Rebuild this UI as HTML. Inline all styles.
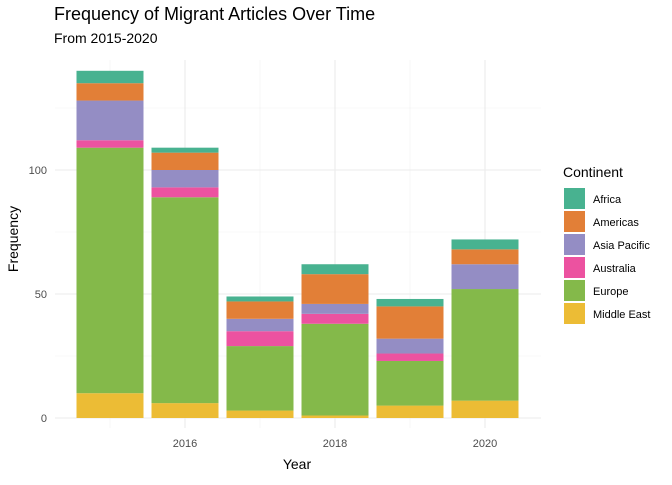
<!DOCTYPE html>
<html><head><meta charset="utf-8"><style>
body{margin:0;background:#fff;font-family:"Liberation Sans",sans-serif}
svg text{font-family:"Liberation Sans",sans-serif}
</style></head><body>
<svg id="c" width="672" height="480">
<text x="54" y="20" font-size="18" fill="#000">Frequency of Migrant Articles Over Time</text>
<text x="54" y="43" font-size="14" fill="#000">From 2015-2020</text>
<g id="grid"></g><g id="bars"></g><g id="axes"></g><g id="legend"></g>
<text x="297" y="469" font-size="14" text-anchor="middle">Year</text>
<text transform="translate(18,239) rotate(-90)" font-size="14" text-anchor="middle">Frequency</text>
</svg>
<script>
const years=[2015,2016,2017,2018,2019,2020];
const continents=["Middle East","Europe","Australia","Asia Pacific","Americas","Africa"];
const middleEast=[10,6,3,1,5,7];
const europe=[99,83,26,37,18,45];
const australia=[3,4,6,4,3,0];
const asiaPacific=[16,7,5,4,6,10];
const americas=[7,7,7,12,13,6];
const africa=[5,2,2,4,3,4];
const yTicks=[0,50,100];
const xTicks=[2016,2018,2020];
const colors={"Africa":"#48b290","Americas":"#e27f37","Asia Pacific":"#948dc4","Australia":"#ec52a0","Europe":"#84b94a","Middle East":"#ecbc35"};
const series=[middleEast,europe,australia,asiaPacific,americas,africa];
const NS="http://www.w3.org/2000/svg";
const y=v=>418-v*2.48, x=yr=>110+(yr-2015)*75;
function mk(t,a,p){const e=document.createElementNS(NS,t);for(const k in a)e.setAttribute(k,a[k]);p.appendChild(e);return e;}
const g=document.getElementById('grid'),b=document.getElementById('bars'),ax=document.getElementById('axes'),lg=document.getElementById('legend');
for(let v=25;v<=125;v+=50){const l=mk('line',{x1:55,x2:541,y1:y(v),y2:y(v),stroke:'#f2f2f2','stroke-width':0.6},g);}
for(const yr of [2015,2017,2019]){const l=mk('line',{x1:x(yr),x2:x(yr),y1:60,y2:428,stroke:'#f2f2f2','stroke-width':0.6},g);}
yTicks.forEach(v=>{const l=mk('line',{x1:55,x2:541,y1:y(v),y2:y(v),stroke:'#ebebeb','stroke-width':1.1},g);
const t=mk('text',{x:47,y:y(v)+4,'font-size':11,fill:'#4d4d4d','text-anchor':'end'},ax);t.textContent=v;});
xTicks.forEach(yr=>{const l=mk('line',{x1:x(yr),x2:x(yr),y1:60,y2:428,stroke:'#ebebeb','stroke-width':1.1},g);
const t=mk('text',{x:x(yr),y:447,'font-size':11,fill:'#4d4d4d','text-anchor':'middle'},ax);t.textContent=yr;});
years.forEach((yr,i)=>{let base=0;series.forEach((s,j)=>{const v=s[i];if(v>0){const r=mk('rect',{x:x(yr)-33.5,width:67,y:y(base+v),height:v*2.48,fill:colors[continents[j]]},b);
}base+=v;});});
const lt=mk('text',{x:563,y:177,'font-size':14},lg);lt.textContent='Continent';
const order=["Africa","Americas","Asia Pacific","Australia","Europe","Middle East"];
order.forEach((c,i)=>{const r=mk('rect',{x:564,y:188+i*23,width:21,height:21,fill:colors[c]},lg);
const t=mk('text',{x:593,y:203+i*23,'font-size':11},lg);t.textContent=c;});
</script>
</body></html>
